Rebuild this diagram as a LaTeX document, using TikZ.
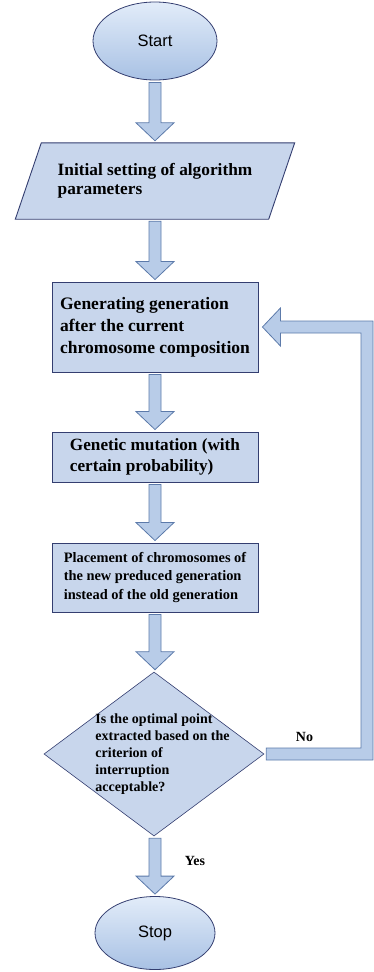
\documentclass[tikz,border=0pt]{standalone}
\usepackage{fontspec}
\setmainfont{Liberation Serif}
\setsansfont{Liberation Sans}
\usepackage{tikz}
\usetikzlibrary{shapes,arrows}
\usetikzlibrary{positioning}
\usetikzlibrary{calc}
\usetikzlibrary{backgrounds}
\definecolor{boxfill}{RGB}{200,214,236}
\definecolor{boxline}{RGB}{52,62,112}
\definecolor{arrowfill}{RGB}{184,204,232}
\definecolor{arrowline}{RGB}{92,122,170}
\definecolor{termtop}{RGB}{226,236,249}
\definecolor{termbottom}{RGB}{168,193,228}
\tikzstyle{blockarrow} = [draw=arrowline, fill=arrowfill, line width=0.8pt, line join=miter]
\tikzstyle{process} = [draw=boxline, fill=boxfill, rectangle, line width=0.9pt,
minimum width=206pt, align=left]
\newcommand{\flowarrow}[2]{%
  \path[blockarrow] let \p1=(#1.south -| spine), \p2=(#2.north -| spine) in
    (\x1-6pt,\y1-2pt) -- (\x1+6pt,\y1-2pt) -- (\x1+6pt,\y2+20pt) -- (\x1+19pt,\y2+20pt)
    -- (\x1,\y2+2pt) -- (\x1-19pt,\y2+20pt) -- (\x1-6pt,\y2+20pt) -- cycle;}

\begin{document}
\begin{tikzpicture}[x=1pt, y=-1pt,
            term/.style={draw=boxline, ellipse, top color=termtop, bottom color=termbottom,
            line width=0.8pt, font=\sffamily\fontsize{16.5pt}{18pt}\selectfont},
            decision/.style={draw=boxline, diamond, fill=boxfill, line width=0.6pt,
            minimum width=220pt, minimum height=164pt, inner sep=0pt}]
            \useasboundingbox (0,0) rectangle (373,972);
            \coordinate (spine) at (155,0);
            \coordinate (back) at (367,0);
            %% Steps
            \node[term, minimum width=124pt, minimum height=78pt] (start) at (155,41) {Start};
            \node[minimum width=253pt, minimum height=76pt, align=left,
            font=\fontsize{17.3pt}{19pt}\selectfont\bfseries] (param) at (155,181)
            {Initial setting of algorithm\\parameters};
            \begin{scope}[on background layer]
            \filldraw[draw=boxline, fill=boxfill, line width=0.9pt]
            ([xshift=-13pt]param.south west) -- ([xshift=13pt]param.north west)
            -- ([xshift=13pt]param.north east) -- ([xshift=-13pt]param.south east) -- cycle;
            \end{scope}
            \node[process, minimum height=90pt, font=\fontsize{17.5pt}{22pt}\selectfont\bfseries]
            (gen) at (155,327) {Generating generation\\after the current\\chromosome composition};
            \node[process, minimum height=50pt, font=\fontsize{17.2pt}{21pt}\selectfont\bfseries]
            (mut) at (155,457) {Genetic mutation (with\\certain probability)};
            \node[process, minimum height=69pt, font=\fontsize{14.4pt}{18.5pt}\selectfont\bfseries]
            (place) at (155,577.5) {Placement of chromosomes of\\the new preduced generation\\instead of the old generation};
            \node[decision] (check) at (154,754) {};
            \node[align=left, font=\fontsize{14pt}{17pt}\selectfont\bfseries] (checktext) at (162.5,754)
            {Is the optimal point\\extracted based on the\\criterion of\\interruption\\acceptable?};
            \node[term, minimum width=120pt, minimum height=73pt] (stop) at (155,933) {Stop};
            %% Flows
            \flowarrow{start}{param}
            \flowarrow{param}{gen}
            \flowarrow{gen}{mut}
            \flowarrow{mut}{place}
            \flowarrow{place}{check}
            \flowarrow{check}{stop}
            %% Loop back (No)
            \path[blockarrow] let \p1=(check.east), \p2=(gen.east), \p3=(back) in
            (\x1+2pt,\y1-6pt) -- (\x3+6pt,\y1-6pt) -- (\x3+6pt,\y2+6pt) -- (\x2+22pt,\y2+6pt)
            -- (\x2+22pt,\y2+19pt) -- (\x2+4pt,\y2) -- (\x2+22pt,\y2-19pt) -- (\x2+22pt,\y2-6pt)
            -- (\x3-6pt,\y2-6pt) -- (\x3-6pt,\y1+6pt) -- (\x1+2pt,\y1+6pt) -- cycle;
            %%
            \node[font=\fontsize{14pt}{16pt}\selectfont\bfseries] (no) at (304.5,737) {No};
            \node[font=\fontsize{14pt}{16pt}\selectfont\bfseries] (yes) at (195,861) {Yes};
        \end{tikzpicture}
\end{document}
